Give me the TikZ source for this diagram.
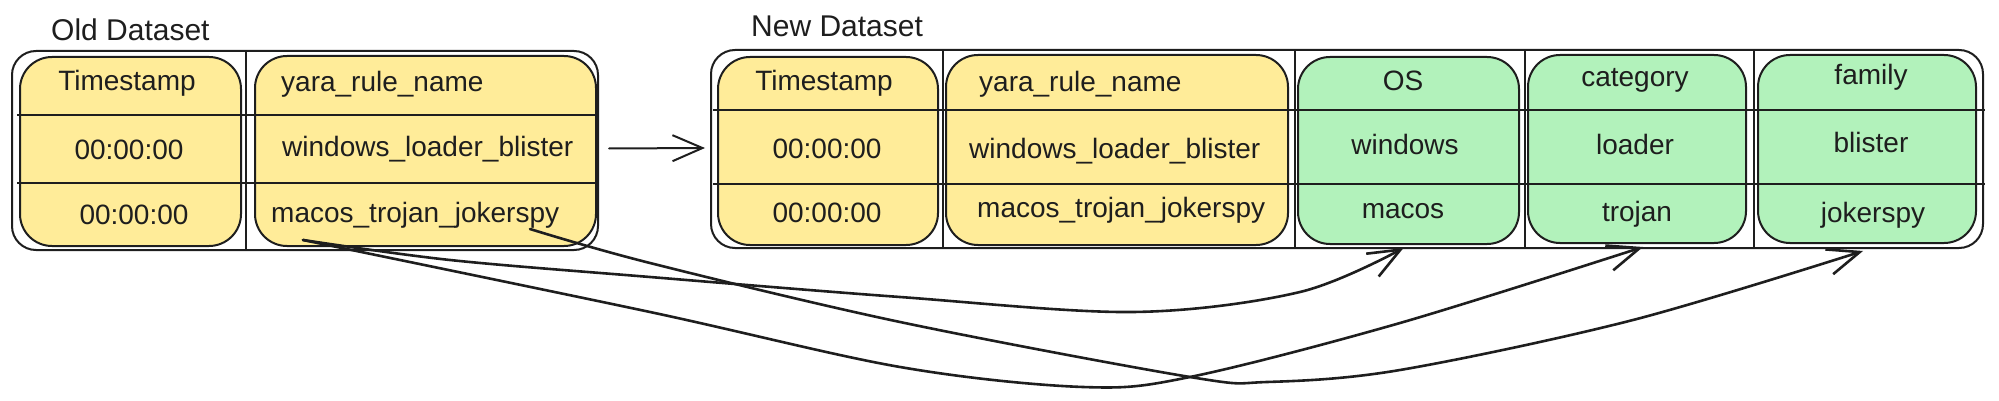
\documentclass[tikz,border=0pt]{standalone}
\usepackage{fontspec}
\setmainfont{Liberation Sans}
\usetikzlibrary{arrows.meta}
\definecolor{ink}{HTML}{1E1E1E}
\definecolor{yfill}{HTML}{FFEC99}
\definecolor{gfill}{HTML}{B2F2BB}
\begin{document}
\begin{tikzpicture}[x=1pt,y=-1pt,
  frame/.style={draw=ink, line width=2pt, rounded corners=24pt, inner sep=0pt, outer sep=0pt, anchor=north west},
  ycol/.style={draw=ink, fill=yfill, line width=2pt, rounded corners=32pt, inner sep=0pt, outer sep=0pt, anchor=north west},
  gcol/.style={draw=ink, fill=gfill, line width=2pt, rounded corners=32pt, inner sep=0pt, outer sep=0pt, anchor=north west},
  rule/.style={draw=ink, line width=2pt},
  cell/.style={font=\fontsize{28}{32}\selectfont, text=ink, inner sep=0pt, anchor=base},
  lcell/.style={cell, anchor=base west},
  title/.style={font=\fontsize{30}{34}\selectfont, text=ink, inner sep=0pt, anchor=base west},
  link/.style={draw=ink, line width=2.6pt, line cap=round, line join=round, -{Straight Barb[length=32pt,width=26pt]}},
  flow/.style={draw=ink, line width=2pt, line cap=round, -{Straight Barb[length=30pt,width=26pt]}},
]
\useasboundingbox (0,0) rectangle (1999,401);

% ---------- Old dataset ----------
\node[title] (oTitle) at (51,41) {Old Dataset};
\node[frame, minimum width=586pt, minimum height=199pt] (oFrame) at (12,51) {};
\node[ycol, minimum width=221pt, minimum height=189pt] (oTsBox) at (20,57) {};
\node[ycol, minimum width=341pt, minimum height=190pt] (oYaraBox) at (255,56) {};
\draw[rule] (246,51) -- (246,250);
\draw[rule] (17,115) -- (596,115);
\draw[rule] (17,183) -- (596,183);

\node[cell] (oTs0) at (127,91) {Timestamp};
\node[cell] (oTs1) at (129,159) {00:00:00};
\node[cell] (oTs2) at (134,224) {00:00:00};
\node[lcell] (oY0) at (281,92) {yara\_rule\_name};
\node[lcell] (oY1) at (282,157) {windows\_loader\_blister};
\node[lcell] (oY2) at (271,222) {macos\_trojan\_jokerspy};

% ---------- New dataset ----------
\node[title] (nTitle) at (751,37) {New Dataset};
\node[frame, minimum width=1272pt, minimum height=198pt] (nFrame) at (711,50) {};
\node[ycol, minimum width=220pt, minimum height=188pt] (nTsBox) at (718,57) {};
\node[ycol, minimum width=342pt, minimum height=190pt] (nYaraBox) at (946,55) {};
\node[gcol, minimum width=221pt, minimum height=187pt] (nOSBox) at (1298,57) {};
\node[gcol, minimum width=218pt, minimum height=188pt] (nCatBox) at (1528,55) {};
\node[gcol, minimum width=218pt, minimum height=188pt] (nFamBox) at (1758,55) {};
\draw[rule] (943,50) -- (943,248);
\draw[rule] (1295,50) -- (1295,248);
\draw[rule] (1525,50) -- (1525,248);
\draw[rule] (1754,50) -- (1754,248);
\draw[rule] (713,110) -- (1985,110);
\draw[rule] (713,184) -- (1985,184);

\node[cell] (nTs0) at (824,91) {Timestamp};
\node[cell] (nTs1) at (827,158) {00:00:00};
\node[cell] (nTs2) at (827,222) {00:00:00};
\node[lcell] (nY0) at (979,92) {yara\_rule\_name};
\node[lcell] (nY1) at (969,158) {windows\_loader\_blister};
\node[lcell] (nY2) at (977,217) {macos\_trojan\_jokerspy};
\node[cell] (nOS0) at (1403,91) {OS};
\node[cell] (nOS1) at (1405,154) {windows};
\node[cell] (nOS2) at (1403,218) {macos};
\node[cell] (nCat0) at (1635,87) {category};
\node[cell] (nCat1) at (1635,154) {loader};
\node[cell] (nCat2) at (1637,221) {trojan};
\node[cell] (nFam0) at (1871,85) {family};
\node[cell] (nFam1) at (1871,153) {blister};
\node[cell] (nFam2) at (1873,222) {jokerspy};

% ---------- connectors ----------
\draw[flow] ([xshift=11pt,yshift=2pt]oFrame.east) -- ([xshift=-6pt,yshift=1pt]nFrame.west);

\coordinate (srcA) at (303,240);
\coordinate (srcC) at (530,229);

\draw[link] plot[smooth, tension=0.55] coordinates {(srcA) (450,260) (650,277) (900,297) (1133,312) (1300,292) ([xshift=-5pt,yshift=-4pt]nOSBox.south)};
\draw[link] plot[smooth, tension=0.55] coordinates {(srcA) (650,312) (900,367) (1083,387) (1190,377) (1400,323) ([xshift=6pt,yshift=-4pt]nCatBox.south)};
\draw[link] plot[smooth, tension=0.55] coordinates {(srcC) (650,263) (900,322) (1190,377) (1267,382) (1400,370) (1633,320) ([xshift=-4pt,yshift=-8pt]nFamBox.south)};
\end{tikzpicture}
\end{document}
